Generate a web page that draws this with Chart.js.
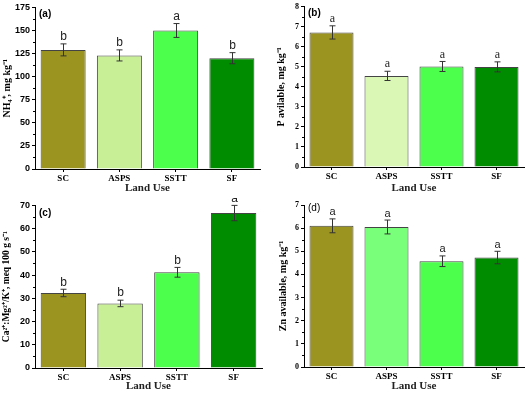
<!DOCTYPE html>
<html>
<head>
<meta charset="utf-8">
<script src="https://cdn.jsdelivr.net/npm/chart.js@4"></script>
<style>
    html, body { margin: 0; padding: 0; background: #fff; }
    #wrap { position: relative; width: 528px; height: 396px; }
    .panel { position: absolute; width: 264px; height: 198px; }
</style>
</head>
<body>
<div id="wrap">
    <div class="panel" style="left:0;top:0"><canvas id="chartA" width="264" height="198"></canvas></div>
    <div class="panel" style="left:264px;top:0"><canvas id="chartB" width="264" height="198"></canvas></div>
    <div class="panel" style="left:0;top:198px"><canvas id="chartC" width="264" height="198"></canvas></div>
    <div class="panel" style="left:264px;top:198px"><canvas id="chartD" width="264" height="198"></canvas></div>
</div>
<script>
// categories
const landUses = ['SC', 'ASPS', 'SSTT', 'SF'];

// (a) NH4+
const nh4Values = [129, 123, 150, 120];
const nh4Errors = [6.5, 6, 7.5, 6];
const nh4Letters = ['b', 'b', 'a', 'b'];

// (b) P available
const pValues = [6.72, 4.55, 5.02, 5.0];
const pErrors = [0.33, 0.23, 0.25, 0.25];
const pLetters = ['a', 'a', 'a', 'a'];

// (c) Ca:Mg/K
const caValues = [32.3, 27.8, 41.2, 66.7];
const caErrors = [1.6, 1.4, 2.1, 3.3];
const caLetters = ['b', 'b', 'b', 'a'];

// (d) Zn available
const znValues = [6.1, 6.05, 4.57, 4.73];
const znErrors = [0.3, 0.3, 0.23, 0.27];
const znLetters = ['a', 'a', 'a', 'a'];

const serif = '"Liberation Serif", "Times New Roman", serif';
const sans = '"Liberation Sans", Arial, sans-serif';

// draws error bars, significance letters, minor ticks and panel tag
const extrasPlugin = {
    id: 'extras',
    afterDatasetsDraw(chart) {
        const o = chart.options.plugins.extras;
        const ctx = chart.ctx;
        const meta = chart.getDatasetMeta(0);
        const y = chart.scales.y;
        const x = chart.scales.x;
        ctx.save();

        // minor ticks
        ctx.strokeStyle = '#000';
        ctx.lineWidth = 1;
        for (let v = o.step / 2; v < o.max; v += o.step) {
            const py = Math.round(y.getPixelForValue(v)) + 0.5;
            ctx.beginPath();
            ctx.moveTo(x.left - 2, py);
            ctx.lineTo(x.left, py);
            ctx.stroke();
        }

        // error bars + letters
        meta.data.forEach((bar, i) => {
            const v = o.values[i], e = o.errors[i];
            const px = Math.round(bar.x) + 0.5;
            const top = y.getPixelForValue(v + e);
            const bot = y.getPixelForValue(v - e);
            ctx.strokeStyle = '#333';
            ctx.beginPath();
            ctx.moveTo(px, top); ctx.lineTo(px, bot);
            ctx.moveTo(px - 3, top); ctx.lineTo(px + 3, top);
            ctx.moveTo(px - 3, bot); ctx.lineTo(px + 3, bot);
            ctx.stroke();
            ctx.fillStyle = '#222';
            ctx.font = o.letterFont;
            ctx.textAlign = 'center';
            ctx.textBaseline = 'bottom';
            ctx.fillText(o.letters[i], px, top - 1);
        });

        // panel tag
        ctx.fillStyle = '#000';
        ctx.font = o.tagFont;
        ctx.textAlign = 'left';
        ctx.textBaseline = 'top';
        ctx.fillText(o.tag, x.left + o.tagDx, chart.chartArea.top + o.tagDy);
        ctx.restore();
    }
};

function makeChart(id, cfg) {
    const ctx = document.getElementById(id).getContext('2d');
    return new Chart(ctx, {
        type: 'bar',
        data: {
            labels: landUses,
            datasets: [{
                data: cfg.values,
                backgroundColor: cfg.colors,
                borderColor: '#444',
                borderWidth: 1,
                barPercentage: 0.8,
                categoryPercentage: 1.0
            }]
        },
        plugins: [extrasPlugin],
        options: {
            responsive: false,
            animation: false,
            devicePixelRatio: 1,
            layout: { padding: { top: cfg.top, right: cfg.right, left: cfg.left, bottom: 0 } },
            plugins: {
                legend: { display: false },
                tooltip: { enabled: false },
                extras: {
                    values: cfg.values, errors: cfg.errors, letters: cfg.letters,
                    step: cfg.step, max: cfg.max,
                    letterFont: cfg.letterFont,
                    tag: cfg.tag, tagFont: cfg.tagFont, tagDx: 4, tagDy: cfg.tagDy
                }
            },
            scales: {
                x: {
                    afterFit: s => { s.height = cfg.xHeight; },
                    border: { display: true, color: '#000', width: 1 },
                    grid: { display: true, drawOnChartArea: false, offset: false, tickLength: 3, color: '#000' },
                    ticks: { color: '#000', padding: 1, font: { family: serif, weight: 'bold', size: 9 } },
                    title: {
                        display: true, text: 'Land Use', color: '#222',
                        font: { family: serif, weight: 'bold', size: 11 },
                        padding: { top: 0, bottom: 3 }
                    }
                },
                y: {
                    min: 0, max: cfg.max,
                    afterFit: s => { s.width = cfg.yWidth; },
                    border: { display: true, color: '#000', width: 1 },
                    grid: { display: true, drawOnChartArea: false, tickLength: 3, color: '#000' },
                    ticks: { stepSize: cfg.step, color: '#000', padding: 2, font: { family: cfg.yTickFamily, weight: 'bold', size: cfg.yTickSize } },
                    title: {
                        display: true, text: cfg.yTitle, color: '#000',
                        font: { family: serif, weight: 'bold', size: cfg.yTitleSize },
                        padding: { top: 1, bottom: 0 }
                    }
                }
            }
        }
    });
}

const olive = '#9c9420', sstt = '#4cff4c', sf = '#008c00';

makeChart('chartA', {
    values: nh4Values, errors: nh4Errors, letters: nh4Letters,
    colors: [olive, '#c8ee96', sstt, sf],
    max: 175, step: 25, top: 6, right: 4, left: 0, xHeight: 29, yWidth: 35,
    yTickFamily: sans, yTickSize: 9, yTitle: 'NH\u2084\u207A, mg kg\u207B\u00B9', yTitleSize: 10,
    letterFont: '12px ' + sans, tag: '(a)', tagFont: 'bold 10px ' + sans, tagDy: 2
});

makeChart('chartB', {
    values: pValues, errors: pErrors, letters: pLetters,
    colors: [olive, '#daf7b5', sstt, sf],
    max: 8, step: 1, top: 6, right: 4, left: 10, xHeight: 31, yWidth: 30,
    yTickFamily: serif, yTickSize: 8, yTitle: 'P avilable, mg kg\u207B\u00B9', yTitleSize: 10,
    letterFont: '12px ' + serif, tag: '(b)', tagFont: 'bold 10px ' + sans, tagDy: 1
});

makeChart('chartC', {
    values: caValues, errors: caErrors, letters: caLetters,
    colors: [olive, '#c8ee96', sstt, sf],
    max: 70, step: 10, top: 7, right: 2, left: 0, xHeight: 28, yWidth: 35,
    yTickFamily: sans, yTickSize: 9, yTitle: 'Ca\u00B2\u207A:Mg\u00B2\u207A/K\u207A, meq 100 g s\u207B\u00B9', yTitleSize: 9.5,
    letterFont: '12px ' + sans, tag: '(c)', tagFont: 'bold 10px ' + sans, tagDy: 3
});

makeChart('chartD', {
    values: znValues, errors: znErrors, letters: znLetters,
    colors: [olive, '#7aff7a', sstt, sf],
    max: 7, step: 1, top: 7, right: 4, left: 12, xHeight: 29, yWidth: 28,
    yTickFamily: serif, yTickSize: 8, yTitle: 'Zn available, mg kg\u207B\u00B9', yTitleSize: 10,
    letterFont: '11px ' + sans, tag: '(d)', tagFont: '10px ' + sans, tagDy: -2
});
</script>
</body>
</html>
